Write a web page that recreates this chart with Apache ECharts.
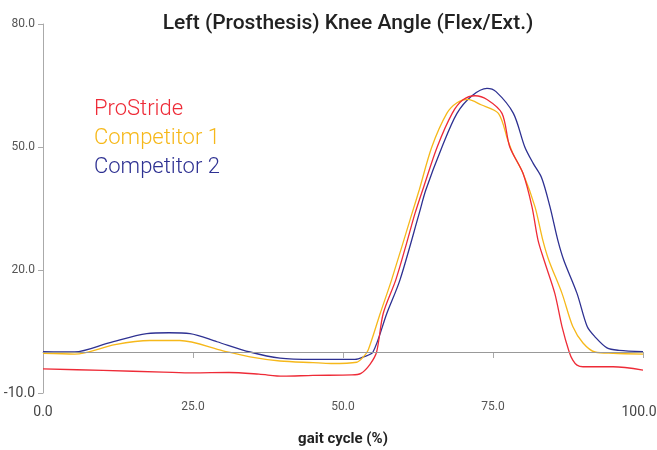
<!DOCTYPE html>
<html>
<head>
<meta charset="utf-8">
<script src="https://cdn.jsdelivr.net/npm/echarts@6/dist/echarts.min.js"></script>
<style>
  html, body { margin: 0; padding: 0; background: #fff; }
  #chart { width: 657px; height: 450px; }
</style>
</head>
<body>
<div id="chart"></div>
<script>
// gait cycle (%) -> knee angle (deg)
const seriesNames = ['ProStride', 'Competitor 1', 'Competitor 2']
const seriesColors = ['#ee2b37', '#f6b81a', '#2e3192']

const proStride = [
  [0, -4.1], [10, -4.5], [20, -4.9], [25, -5.1], [31, -5.0], [36, -5.4], [40, -5.9],
  [45, -5.7], [51.5, -5.6], [53, -5.2], [54.5, -3], [55.6, 0], [56.7, 9.4], [58.8, 17.6],
  [60.5, 26], [62, 33.8], [63.5, 40.5], [65.7, 50], [68.2, 58.2], [70, 61.5], [72, 62.5],
  [74, 61.6], [76.5, 58.2], [77.8, 50], [80, 43.6], [81.5, 35.4], [82.5, 27.3], [83.6, 22],
  [85.3, 14.3], [86.5, 6.2], [87.7, 0], [88.3, -2], [89, -3.2], [90, -3.6], [95, -3.6], [100, -4.4]
]
const competitor1 = [
  [0, -0.3], [5.3, -0.5], [12, 1.8], [17.8, 2.8], [22.8, 2.8], [30, 0.3], [34.5, -1.2],
  [39.5, -2.2], [45, -2.6], [48, -2.8], [52.3, -2.5], [53.5, -1], [54.2, 0.5], [56.2, 9.4],
  [58.1, 17.6], [61.5, 33.8], [62.7, 39.5], [64.8, 50], [67.3, 58.2], [69, 60.8], [70.8, 61.6],
  [73, 60.3], [75.9, 58.2], [77.5, 51.5], [78.3, 48.5], [80, 43.6], [82, 35.4], [83.3, 27.3],
  [84.3, 22.4], [86.5, 14.3], [88.3, 6.2], [90, 2.2], [92, 0], [95, -0.3], [100, -0.5]
]
const competitor2 = [
  [0, 0.1], [5.3, 0], [11, 2.2], [17.3, 4.5], [21, 4.7], [24.5, 4.5], [29, 2.5], [34.5, 0],
  [39.5, -1.5], [45, -1.8], [52, -1.8], [53.4, -1.2], [55, 0], [57.3, 9.4], [59.5, 17.6],
  [62.7, 33.8], [63.8, 39.5], [66.5, 50], [69, 58.2], [71.5, 62.5], [74, 64.3], [75.5, 63.5],
  [78.4, 58.2], [80.3, 50], [81.7, 46], [83.1, 42.5], [84.5, 35.4], [85.8, 27.3], [86.8, 22.4],
  [89, 14.3], [90.7, 6.2], [92, 3.7], [94, 1], [96, 0.4], [100, 0.1]
]
const seriesData = [proStride, competitor1, competitor2]

const xTicks = [0, 25, 50, 75, 100]
const yTicks = [-10, 20, 50, 80]

const chart = echarts.init(document.getElementById('chart'))

// end labels are drawn bigger than the inner ones in the reference
const tickFormatter = (ends, last) => (v) => {
  const s = v.toFixed(1)
  if (v === last) return '{last|' + s + '}'
  return ends.includes(v) ? '{big|' + s + '}' : s
}

const option = {
  animation: false,
  textStyle: { fontFamily: 'Roboto' },
  title: {
    text: 'Left (Prosthesis) Knee Angle (Flex/Ext.)',
    left: 343,
    textAlign: 'center',
    top: 8,
    textStyle: { fontSize: 21, fontWeight: 500, color: '#222' }
  },
  legend: {
    orient: 'vertical',
    left: 84,
    top: 93,
    icon: 'none',
    itemWidth: 0,
    itemGap: 7,
    selectedMode: false,
    data: seriesNames.map((n, i) => ({ name: n, textStyle: { color: seriesColors[i] } })),
    textStyle: { fontSize: 22, fontFamily: 'Roboto', fontWeight: 300 }
  },
  grid: { left: 43, right: 14, top: 24, bottom: 57, outerBoundsMode: 'none' },
  xAxis: {
    type: 'value',
    min: xTicks[0],
    max: xTicks[xTicks.length - 1],
    interval: 25,
    name: 'gait cycle (%)',
    nameLocation: 'middle',
    nameGap: 39,
    nameTextStyle: { fontSize: 15, fontWeight: 'bold', color: '#222' },
    axisLine: { show: true, lineStyle: { color: '#aaa' } },
    axisTick: { show: true, length: 6, lineStyle: { color: '#aaa' } },
    axisLabel: {
      color: '#555',
      fontSize: 12,
      margin: 8,
      formatter: tickFormatter([0], 100),
      rich: {
        big: { fontSize: 14, color: '#444', padding: [4, 0, 0, 0] },
        last: { fontSize: 14, color: '#444', padding: [4, 8, 0, 0] }
      }
    },
    splitLine: { show: false }
  },
  yAxis: {
    type: 'value',
    min: yTicks[0],
    max: yTicks[yTicks.length - 1],
    interval: 30,
    axisLine: { show: true, lineStyle: { color: '#aaa' } },
    axisTick: { show: true, length: 5, lineStyle: { color: '#aaa' } },
    axisLabel: {
      color: '#555',
      fontSize: 12,
      margin: 8,
      formatter: tickFormatter([-10]),
      rich: { big: { fontSize: 14, color: '#444' } }
    },
    splitLine: { show: false }
  },
  series: seriesData.map((d, i) => ({
    name: seriesNames[i],
    type: 'line',
    data: d,
    smooth: 0.3,
    showSymbol: false,
    lineStyle: { color: seriesColors[i], width: 1.3 },
    itemStyle: { color: seriesColors[i] },
    z: 3 - i,
    markLine: i === 0 ? {
      silent: true,
      symbol: 'none',
      label: { show: false },
      lineStyle: { color: '#999', type: 'solid', width: 1 },
      data: [{ yAxis: 0 }]
    } : undefined
  }))
}

option && chart.setOption(option)
</script>
</body>
</html>
